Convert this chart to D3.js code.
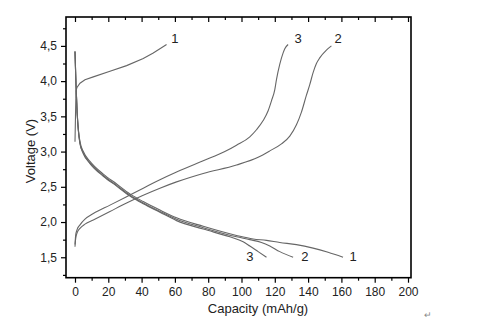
<!DOCTYPE html>
<html>
<head>
<meta charset="utf-8">
<script src="https://cdn.jsdelivr.net/npm/d3@7"></script>
<style>
  html, body { margin: 0; padding: 0; background: #fff; }
  svg { display: block; font-family: "Liberation Sans", Arial, sans-serif; }
</style>
</head>
<body>
<svg id="chart" width="480" height="328"></svg>
<script>
// ---- data (capacity mAh/g, voltage V) ----
const xTicks = [0, 20, 40, 60, 80, 100, 120, 140, 160, 180, 200];
const yTicks = [1.5, 2.0, 2.5, 3.0, 3.5, 4.0, 4.5];
const yTickLabels = ["1,5", "2,0", "2,5", "3,0", "3,5", "4,0", "4,5"];

const charge1 = [[0,3.14],[0.3,3.5],[0.6,3.86],[1.2,3.91],[3,3.97],[6,4.02],[11,4.06],[21,4.14],[31,4.22],[41,4.32],[47,4.40],[55,4.52]];
const charge2 = [[0,1.65],[0.4,1.76],[1.5,1.86],[3,1.91],[6,1.97],[11,2.03],[21,2.15],[31,2.27],[41,2.38],[51,2.48],[61,2.57],[77,2.69],[97,2.81],[110,2.92],[117,3.01],[124,3.11],[129,3.22],[133,3.38],[136,3.56],[139,3.80],[141,3.95],[143,4.12],[145,4.25],[147,4.33],[151,4.44],[154,4.50]];
const charge3 = [[0,1.68],[0.4,1.81],[1.2,1.89],[3,1.96],[6,2.04],[11,2.12],[21,2.24],[31,2.36],[41,2.48],[51,2.60],[61,2.71],[77,2.87],[90,3.00],[97,3.09],[105,3.21],[109,3.31],[113,3.44],[116,3.58],[118,3.72],[120,3.88],[121,4.02],[123,4.24],[125,4.40],[126,4.46],[128,4.52]];
const discharge1 = [[0,4.42],[0.6,3.95],[1.3,3.55],[2,3.32],[3,3.14],[5,3.00],[9,2.86],[17,2.68],[25,2.54],[33,2.40],[41,2.29],[51,2.17],[61,2.06],[77,1.94],[97,1.81],[107,1.76],[115,1.74],[123,1.71],[133,1.68],[143,1.63],[152,1.57],[161,1.50]];
const discharge2 = [[0,4.42],[0.6,3.95],[1.3,3.55],[2,3.31],[3,3.12],[5,2.98],[9,2.84],[17,2.66],[25,2.52],[33,2.38],[41,2.27],[51,2.15],[61,2.04],[77,1.92],[97,1.79],[105,1.75],[112,1.71],[117,1.66],[123,1.58],[131,1.50]];
const discharge3 = [[0,4.42],[0.6,3.95],[1.3,3.55],[2,3.30],[3,3.11],[5,2.97],[9,2.83],[17,2.65],[25,2.51],[33,2.37],[41,2.26],[51,2.14],[61,2.02],[77,1.90],[93,1.79],[101,1.72],[105,1.66],[110,1.58],[115,1.50]];

const curves = [charge1, charge2, charge3, discharge1, discharge2, discharge3];
const curveLabels = [
  {t: "1", x: 60, y: 4.54}, {t: "3", x: 134, y: 4.54}, {t: "2", x: 158, y: 4.54},
  {t: "3", x: 105, y: 1.44}, {t: "2", x: 138, y: 1.44}, {t: "1", x: 167, y: 1.44}
];

// ---- layout ----
const svg = d3.select("#chart");
const L = 66, R = 411, T = 17, B = 277.7;
const x = d3.scaleLinear().domain([-5.4, 201.8]).range([L, R]);
const y = d3.scaleLinear().domain([1.21, 4.91]).range([B, T]);

const minorX = d3.range(0, 201, 10).filter(v => v % 20 !== 0);
const minorY = [1.25, 1.75, 2.25, 2.75, 3.25, 3.75, 4.25, 4.75];

// bottom axis
const gB = svg.append("g").attr("transform", `translate(0,${B})`);
gB.call(d3.axisBottom(x).tickValues(xTicks).tickSize(5).tickSizeOuter(0).tickPadding(5).tickFormat(d3.format("d")));
gB.append("g").call(d3.axisBottom(x).tickValues(minorX).tickSize(3).tickFormat(""));
// left axis
const gL = svg.append("g").attr("transform", `translate(${L},0)`);
gL.call(d3.axisLeft(y).tickValues(yTicks).tickSize(5).tickSizeOuter(0).tickPadding(4).tickFormat((d,i) => yTickLabels[i]));
gL.append("g").call(d3.axisLeft(y).tickValues(minorY).tickSize(3).tickFormat(""));
// top axis (inward ticks)
const gT = svg.append("g").attr("transform", `translate(0,${T})`);
gT.call(d3.axisBottom(x).tickValues(xTicks).tickSize(5).tickSizeOuter(0).tickFormat(""));
gT.append("g").call(d3.axisBottom(x).tickValues(minorX).tickSize(3).tickFormat(""));

svg.selectAll(".domain").remove();
svg.selectAll(".tick line").attr("stroke", "#000").attr("stroke-width", 1.2);
svg.selectAll(".tick text").attr("font-size", 12).attr("fill", "#222")
   .attr("font-family", "'Liberation Sans', Arial, sans-serif");

// frame
svg.append("rect").attr("x", L).attr("y", T).attr("width", R - L).attr("height", B - T)
   .attr("fill", "none").attr("stroke", "#000").attr("stroke-width", 1.6);

// curves
const line = d3.line().x(d => x(d[0])).y(d => y(d[1])).curve(d3.curveMonotoneX);
const lineV = d3.line().x(d => x(d[0])).y(d => y(d[1])).curve(d3.curveLinear);
svg.append("g").selectAll("path").data(curves).join("path")
   .attr("d", (d, i) => (i === 0 ? lineV(d) : line(d)))
   .attr("fill", "none").attr("stroke", "#666").attr("stroke-width", 1.1);

// curve labels
svg.append("g").selectAll("text").data(curveLabels).join("text")
   .attr("x", d => x(d.x)).attr("y", d => y(d.y))
   .attr("text-anchor", "middle").attr("font-size", 13).attr("fill", "#222")
   .text(d => d.t);

// axis titles
svg.append("text").attr("x", 258).attr("y", 313).attr("text-anchor", "middle")
   .attr("font-size", 13).attr("fill", "#222").text("Capacity (mAh/g)");
svg.append("text").attr("transform", "translate(35,151) rotate(-90)").attr("text-anchor", "middle")
   .attr("font-size", 13).attr("fill", "#222").text("Voltage (V)");

// stray return mark
svg.append("text").attr("x", 428).attr("y", 318).attr("text-anchor", "middle")
   .attr("font-size", 9).attr("fill", "#888").text("↵");
</script>
</body>
</html>
